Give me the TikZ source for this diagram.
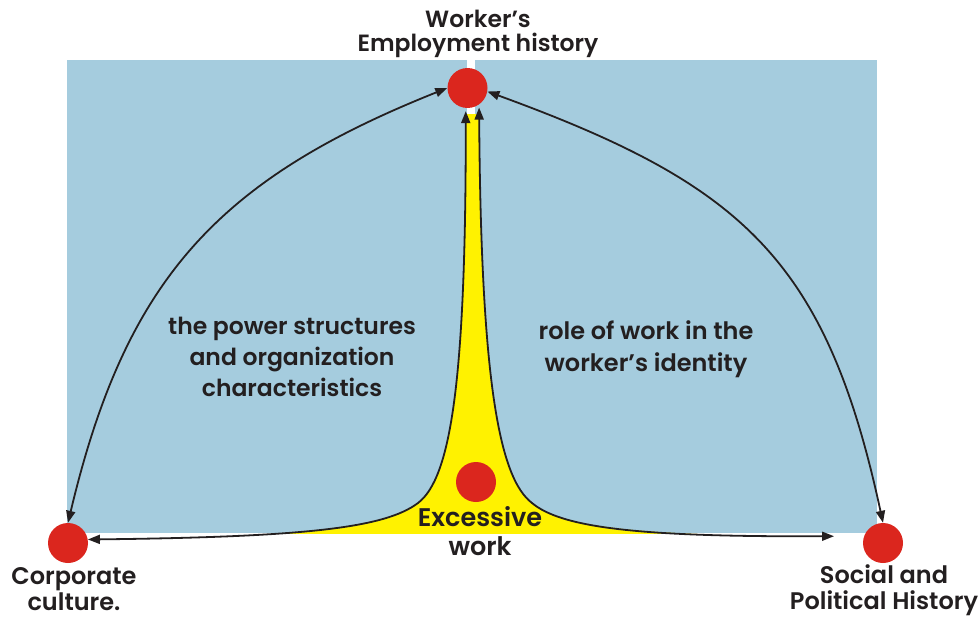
\documentclass[tikz,border=0pt]{standalone}
\usepackage{fontspec}
\setmainfont{Poppins}[UprightFont=* SemiBold]
\usetikzlibrary{arrows.meta}
\definecolor{skyblue}{RGB}{165,204,222}
\definecolor{hotyellow}{RGB}{255,242,0}
\definecolor{dotred}{RGB}{219,38,30}
\definecolor{ink}{RGB}{35,31,32}
\begin{document}
\begin{tikzpicture}[x=1pt,y=-1pt,
  dot/.style={circle,fill=dotred,minimum size=40pt,inner sep=0pt},
  lbl/.style={text=ink,align=center,inner sep=0pt},
  link/.style={draw=ink,line width=1.8pt,arrows={Triangle[length=12pt,width=9pt]-Triangle[length=12pt,width=9pt]}}]
\useasboundingbox (0,0) rectangle (978,618);
% background panels
\fill[skyblue] (67,60) rectangle (467,533);
\fill[skyblue] (475,60) rectangle (877,533);
% nodes
\node[dot] (tc) at (467.5,88) {};
\node[dot] (lc) at (68,543) {};
\node[dot] (rc) at (883,543) {};
% yellow cusp
\begin{scope}
\clip (67,114) rectangle (877,533);
\fill[hotyellow] (tc.-95) .. controls (466,380) and (451,478) .. (418,503) .. controls (385,528) and (305,537) .. (lc.10) -- (88,600) -- (864,600) -- (rc.160) .. controls (640,537) and (562,528) .. (532,503) .. controls (499,478) and (481,380) .. (tc.-55) -- cycle;
\end{scope}
\node[dot] (xc) at (476,482) {};
% connectors
\draw[link] (lc.north) .. controls (125.5,280.5) and (216.5,180) .. (tc.west);
\draw[link] (tc.-10) .. controls (741,184) and (826,258) .. (rc.north);
\draw[link,shorten >=3pt] (lc.10) .. controls (305,537) and (385,528) .. (418,503) .. controls (451,478) and (466,380) .. (tc.-95);
\draw[link,shorten <=3pt,shorten >=30pt] (tc.-55) .. controls (481,380) and (499,478) .. (532,503) .. controls (562,528) and (640,537) .. (rc.160);
% labels
\node[lbl,font=\fontsize{23.5}{24}\selectfont] (title) at (478,34) {Worker’s\\Employment history};
\node[lbl,font=\fontsize{23.5}{31}\selectfont] (power) at (292,357) {the power structures\\and organization\\characteristics};
\node[lbl,font=\fontsize{24}{32}\selectfont] (role) at (646,349) {role of work in the\\worker’s identity};
\node[lbl,font=\fontsize{25.5}{29}\selectfont] (exc) at (480,531) {Excessive\\work};
\node[lbl,font=\fontsize{24}{26}\selectfont] (corp) at (74,589) {Corporate\\culture.};
\node[lbl,font=\fontsize{24}{26}\selectfont] (soc) at (884,590) {Social and\\Political History};
\end{tikzpicture}
\end{document}
